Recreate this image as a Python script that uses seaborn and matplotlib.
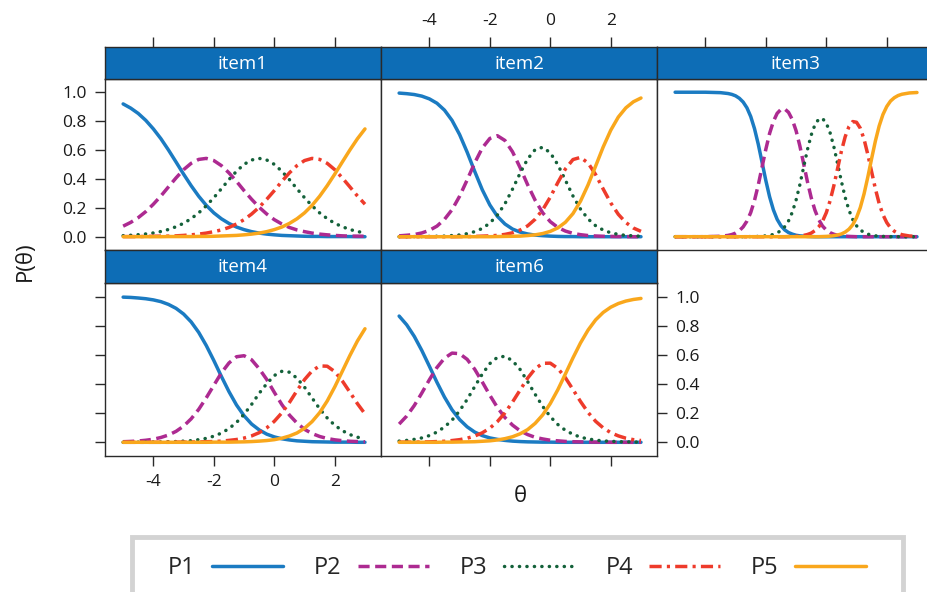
import numpy as np
import pandas as pd
import seaborn as sns
import matplotlib.pyplot as plt
from matplotlib.patches import Rectangle
from matplotlib.colors import same_color

sns.set_style("ticks")
plt.rcParams["font.family"] = ["Open Sans", "DejaVu Sans"]

# theta grid shared by items 1, 2, 4, 6
theta = [-5.0, -4.75, -4.5, -4.25, -4.0, -3.75, -3.5, -3.25, -3.0, -2.75, -2.5,
         -2.25, -2.0, -1.75, -1.5, -1.25, -1.0, -0.75, -0.5, -0.25, 0.0, 0.25,
         0.5, 0.75, 1.0, 1.25, 1.5, 1.75, 2.0, 2.25, 2.5, 2.75, 3.0]
# item3 is steep, so read it on a finer grid
theta3 = [-5.0, -4.0, -3.5, -3.25, -3.125, -3.0, -2.875, -2.75, -2.625, -2.5,
          -2.375, -2.25, -2.125, -2.0, -1.875, -1.75, -1.625, -1.5, -1.375,
          -1.25, -1.125, -1.0, -0.875, -0.75, -0.625, -0.5, -0.375, -0.25,
          -0.125, 0.0, 0.125, 0.25, 0.375, 0.5, 0.625, 0.75, 0.875, 1.0,
          1.125, 1.25, 1.375, 1.5, 1.625, 1.75, 1.875, 2.0, 2.125, 2.25,
          2.375, 2.5, 2.75, 3.0]

categories = ["P1", "P2", "P3", "P4", "P5"]

item1_p1 = [.919, .890, .853, .805, .746, .678, .600, .517, .433, .353, .280, .217, .165, .124, .092, .067, .049,
            .035, .025, .018, .013, .009, .007, .005, .003, .002, .002, .001, .001, .001, .001, 0, 0]
item1_p2 = [.073, .099, .132, .174, .225, .282, .345, .407, .464, .508, .535, .542, .527, .492, .442, .383, .319,
            .259, .204, .157, .118, .088, .064, .047, .035, .025, .018, .013, .009, .006, .004, .004, .003]
item1_p3 = [.007, .010, .014, .019, .026, .036, .050, .069, .093, .125, .165, .214, .270, .332, .395, .453, .501,
            .531, .542, .531, .501, .453, .395, .332, .270, .214, .165, .125, .093, .069, .050, .036, .026]
item1_p4 = [.001, .001, .001, .002, .003, .004, .004, .006, .009, .013, .018, .025, .035, .047, .064, .088, .118,
            .157, .204, .259, .319, .383, .442, .492, .527, .542, .535, .508, .464, .407, .345, .282, .225]
item1_p5 = [0, 0, 0, 0, 0, 0, .001, .001, .001, .001, .002, .002, .003, .005, .007, .009, .013,
            .018, .025, .035, .049, .067, .092, .124, .165, .217, .280, .353, .433, .517, .600, .678, .746]

item2_p1 = [.994, .990, .984, .973, .954, .924, .876, .805, .707, .585, .452, .325, .220, .141, .088, .053, .032,
            .019, .011, .007, .004, .002, .001, .001, 0, 0, 0, 0, 0, 0, 0, 0, 0]
item2_p2 = [.006, .010, .015, .026, .044, .073, .120, .187, .280, .393, .511, .614, .680, .699, .666, .588, .479,
            .360, .252, .165, .104, .064, .039, .023, .014, .008, .005, .003, .002, .001, .001, 0, 0]
item2_p3 = [0, 0, .001, .001, .002, .003, .004, .008, .012, .021, .035, .057, .094, .150, .228, .329, .439,
            .538, .603, .619, .581, .498, .391, .282, .191, .123, .076, .046, .027, .016, .009, .006, .003]
item2_p4 = [0, 0, 0, 0, 0, 0, 0, 0, .001, .001, .002, .004, .006, .009, .016, .027, .046,
            .075, .121, .187, .274, .375, .469, .534, .549, .510, .430, .330, .234, .155, .098, .060, .037]
item2_p5 = [0, 0, 0, 0, 0, 0, 0, 0, 0, 0, 0, 0, 0, .001, .002, .003, .004,
            .008, .013, .022, .037, .061, .100, .160, .246, .359, .489, .621, .737, .828, .892, .934, .960]

item3_p1 = [1, 1, .997, .991, .985, .975, .958, .932, .892, .832, .748, .640, .515, .389, .276, .186, .120,
            .076, .047, .029, .018, .010, .006, .004, .002, .001, 0, 0, 0, 0, 0, 0, 0, 0,
            0, 0, 0, 0, 0, 0, 0, 0, 0, 0, 0, 0, 0, 0, 0, 0, 0, 0]
item3_p2 = [0, 0, .003, .009, .015, .025, .042, .068, .108, .167, .251, .358, .482, .605, .715, .798, .854,
            .881, .884, .861, .811, .734, .629, .506, .382, .271, .183, .118, .074, .046, .028, .017, .010,
            .006, .004, .002, .001, 0, 0, 0, 0, 0, 0, 0, 0, 0, 0, 0, 0, 0, 0, 0]
item3_p3 = [0, 0, 0, 0, 0, 0, 0, 0, 0, .001, .001, .002, .003, .006, .009, .016, .026,
            .043, .069, .109, .169, .253, .359, .481, .601, .703, .775, .814, .818, .786, .720, .623, .505,
            .383, .272, .184, .119, .076, .047, .029, .018, .010, .006, .004, .002, .001, 0, 0, 0, 0, 0, 0]
item3_p4 = [0, 0, 0, 0, 0, 0, 0, 0, 0, 0, 0, 0, 0, 0, 0, 0, 0,
            0, 0, .001, .002, .003, .006, .009, .015, .025, .042, .068, .107, .166, .248, .353, .473,
            .592, .692, .762, .797, .792, .751, .674, .568, .449, .331, .229, .152, .098, .061, .038, .023,
            .014, .005, .002]
item3_p5 = [0, 0, 0, 0, 0, 0, 0, 0, 0, 0, 0, 0, 0, 0, 0, 0, 0,
            0, 0, 0, 0, 0, 0, 0, 0, 0, 0, 0, .001, .002, .004, .007, .012,
            .019, .032, .052, .083, .132, .202, .297, .414, .541, .663, .767, .846, .901, .939, .962, .977,
            .986, .995, .998]

item4_p1 = [.996, .994, .990, .985, .977, .965, .946, .919, .880, .826, .754, .664, .561, .452, .348, .256, .182,
            .125, .085, .056, .037, .024, .016, .010, .007, .004, .003, .002, .001, .001, .001, 0, 0]
item4_p2 = [.004, .006, .009, .014, .021, .033, .050, .075, .111, .161, .226, .305, .391, .476, .544, .587, .594,
            .566, .505, .431, .343, .259, .187, .132, .089, .060, .040, .026, .017, .011, .007, .005, .003]
item4_p3 = [0, 0, .001, .001, .002, .002, .004, .005, .008, .011, .018, .027, .042, .063, .094, .136, .192,
            .260, .336, .402, .458, .487, .481, .440, .378, .304, .230, .167, .117, .080, .053, .035, .023]
item4_p4 = [0, 0, 0, 0, 0, 0, 0, .001, .001, .002, .002, .004, .005, .008, .013, .019, .029,
            .044, .066, .099, .144, .202, .273, .354, .430, .490, .524, .522, .485, .421, .344, .265, .195]
item4_p5 = [0, 0, 0, 0, 0, 0, 0, 0, 0, 0, 0, 0, .001, .001, .001, .002, .003,
            .005, .008, .012, .018, .028, .043, .064, .096, .142, .203, .283, .380, .487, .595, .695, .779]

item6_p1 = [.866, .806, .727, .630, .522, .412, .310, .223, .156, .106, .070, .046, .030, .020, .013, .008, .005,
            .003, .002, .001, .001, 0, 0, 0, 0, 0, 0, 0, 0, 0, 0, 0, 0]
item6_p2 = [.125, .180, .252, .338, .429, .513, .577, .612, .608, .569, .501, .414, .323, .239, .170, .118, .079,
            .053, .034, .023, .014, .010, .006, .004, .003, .002, .001, .001, 0, 0, 0, 0, 0]
item6_p3 = [.008, .013, .020, .030, .046, .070, .105, .152, .216, .294, .382, .468, .540, .583, .590, .560, .500,
            .417, .329, .246, .176, .122, .082, .055, .035, .023, .015, .009, .007, .004, .003, .002, .001]
item6_p4 = [.001, .001, .001, .002, .003, .005, .007, .012, .018, .028, .043, .065, .097, .142, .202, .276, .358,
            .440, .505, .542, .543, .507, .443, .362, .280, .205, .144, .099, .066, .044, .028, .018, .012]
item6_p5 = [0, 0, 0, 0, 0, 0, .001, .001, .002, .003, .004, .007, .010, .016, .025, .038, .058,
            .087, .130, .188, .266, .361, .469, .579, .682, .770, .840, .891, .927, .952, .969, .980, .987]

xtick_values = [-4, -2, 0, 2]
xtick_labels = ["-4", "-2", "0", "2"]
ytick_values = [0.0, 0.2, 0.4, 0.6, 0.8, 1.0]
ytick_labels = ["0.0", "0.2", "0.4", "0.6", "0.8", "1.0"]

colors = {"P1": "#1b7bc2", "P2": "#ad2a91", "P3": "#14613a", "P4": "#ee3b2b", "P5": "#f9a71c"}
dashes = {"P1": "", "P2": (3.2, 1.6), "P3": (0.05, 2.1), "P4": (3.5, 1.5, 0.9, 1.5), "P5": ""}
strip_color = "#0d6db6"
edge = "#2a2a2a"


def long_frame(x, curves):
    parts = [pd.DataFrame({"theta": x, "prob": v, "category": c}) for c, v in zip(categories, curves)]
    return pd.concat(parts, ignore_index=True)


panels = [
    ("item1", 0, 0, long_frame(theta, [item1_p1, item1_p2, item1_p3, item1_p4, item1_p5])),
    ("item2", 0, 1, long_frame(theta, [item2_p1, item2_p2, item2_p3, item2_p4, item2_p5])),
    ("item3", 0, 2, long_frame(theta3, [item3_p1, item3_p2, item3_p3, item3_p4, item3_p5])),
    ("item4", 1, 0, long_frame(theta, [item4_p1, item4_p2, item4_p3, item4_p4, item4_p5])),
    ("item6", 1, 1, long_frame(theta, [item6_p1, item6_p2, item6_p3, item6_p4, item6_p5])),
]

W, H = 928, 592
fig = plt.figure(figsize=(W / 100, H / 100), dpi=100)


def box(x, y, w, h):
    return [x / W, 1 - (y + h) / H, w / W, h / H]


col_x = [105, 381, 657]
pw = 276
rows = [(47, 78.5, 250), (250, 282.7, 455.7)]  # strip top, panel top, panel bottom
xlim = (-5.6, 3.53)
ylim = (-0.092, 1.095)

tick_kw = dict(length=7, width=1, color=edge, labelsize=12.5, labelcolor="#1a1a1a", pad=6)
axes = {}
for name, r, c, df in panels:
    st, pt, pb = rows[r]
    ax = fig.add_axes(box(col_x[c], pt, pw, pb - pt))
    sax = fig.add_axes(box(col_x[c], st, pw, pt - st))
    axes[name] = ax

    sns.lineplot(data=df, x="theta", y="prob", hue="category", style="category",
                 hue_order=categories, style_order=categories, palette=colors,
                 dashes=dashes, linewidth=2.5, legend=False, ax=ax)
    for line in ax.get_lines():
        if same_color(line.get_color(), colors["P3"]):
            line.set_dash_capstyle("round")

    for a in (ax, sax):
        a.set_xlim(xlim)
        for s in a.spines.values():
            s.set_color(edge)
            s.set_linewidth(1)
        a.set_xlabel("")
        a.set_ylabel("")
        a.set_xticks(xtick_values)
        a.set_xticklabels(xtick_labels)
        a.tick_params(axis="both", which="both", left=False, right=False, top=False, bottom=False,
                      labelleft=False, labelright=False, labeltop=False, labelbottom=False, **tick_kw)
    ax.set_ylim(ylim)
    ax.set_yticks(ytick_values)
    ax.set_yticklabels(ytick_labels)
    sax.set_yticks([])
    sax.set_facecolor(strip_color)
    sax.text(0.5, 0.47, name, transform=sax.transAxes, ha="center", va="center",
             color="white", fontsize=13.5)

    if r == 0:
        sax.tick_params(axis="x", top=True, labeltop=(name == "item2"))
    if r == 1:
        ax.tick_params(axis="x", bottom=True, labelbottom=(name == "item4"))
    if c == 0:
        ax.tick_params(axis="y", left=True, labelleft=(name == "item1"))
    if name == "item6":
        ax.tick_params(axis="y", right=True, labelright=True)

fig.text(25 / W, 1 - 261 / H, "P(θ)", rotation=90, ha="center", va="center", fontsize=16, color="#1a1a1a")
fig.text(520 / W, 1 - 496 / H, "θ", ha="center", va="center", fontsize=16, color="#1a1a1a")

# legend box, cut by the bottom edge as in the original
fig.add_artist(Rectangle((132 / W, 1 - 605 / H), 771 / W, 68 / H, transform=fig.transFigure,
                         facecolor="white", edgecolor="#d3d3d3", linewidth=3.5, zorder=0))
handles = axes["item1"].get_lines()[:5]
fig.legend(handles, categories, loc="center left", bbox_to_anchor=(168 / W, 1 - 568 / H, 698 / W, 0),
           mode="expand", ncol=5, markerfirst=False, frameon=False, fontsize=17,
           handlelength=3.0, handletextpad=0.7, borderpad=0, borderaxespad=0)

fig.savefig("out.png", dpi=100)
